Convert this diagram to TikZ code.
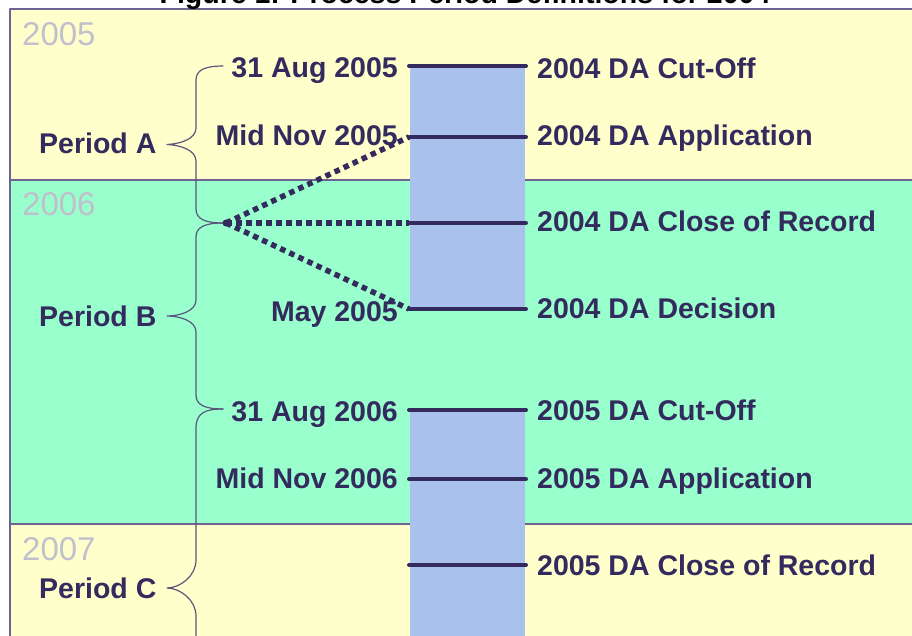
\documentclass[tikz,border=0pt]{standalone}
\usepackage{fontspec}
\setmainfont{Liberation Sans}
\definecolor{pale}{RGB}{255,255,204}
\definecolor{mint}{RGB}{153,255,204}
\definecolor{barblue}{RGB}{170,193,238}
\definecolor{ink}{RGB}{51,42,94}
\definecolor{yeargray}{RGB}{192,192,204}
\definecolor{edge}{RGB}{110,100,145}
\begin{document}
\begin{tikzpicture}[x=1pt, y=-1pt, line join=round, line cap=round,
			declare function={xl=10;xr=930;xb=410;xe=525;xs=196;xt=223;xc=167;},
			lbl/.style={font=\fontsize{28.5}{30}\bfseries\selectfont, text=ink, inner sep=0pt},
			yr/.style={font=\fontsize{33}{34}\selectfont, text=yeargray, inner sep=0pt, anchor=base west},
			tick/.style={ink, line width=4pt},
			dots/.style={ink, line width=5.5pt, line cap=butt, dash pattern=on 5.5pt off 4.5pt},
			brc/.style={ink!80, line width=1.2pt}]
			\useasboundingbox (0,0) rectangle (912,636);
			% year bands
			\draw[edge, line width=1.2pt, fill=pale] (xl,9) rectangle (xr,180);
			\draw[edge, line width=1.2pt, fill=mint] (xl,180) rectangle (xr,524);
			\draw[edge, line width=1.2pt, fill=pale] (xl,524) rectangle (xr,660);
			\node[yr] (y5) at (22,46) {2005};
			\node[yr] (y6) at (22,216) {2006};
			\node[yr] (y7) at (22,560) {2007};
			\node[font=\fontsize{28.5}{30}\bfseries\selectfont, anchor=base, inner sep=0pt] (title) at (465,4) {Figure 1: Process Period Definitions for 2004};
			% bar
			\fill[barblue] (xb,66) rectangle (xe,309);
			\fill[barblue] (xb,410) rectangle (xe,660);
			% ticks
			\coordinate (t1) at (409,66);  \coordinate (u1) at (526,66);
			\coordinate (t2) at (409,137); \coordinate (u2) at (526,137);
			\coordinate (t3) at (409,223); \coordinate (u3) at (526,223);
			\coordinate (t4) at (409,309); \coordinate (u4) at (526,309);
			\coordinate (t5) at (409,410); \coordinate (u5) at (526,410);
			\coordinate (t6) at (409,479); \coordinate (u6) at (526,479);
			\coordinate (t7) at (409,565); \coordinate (u7) at (526,565);
			\draw[tick] (t1)--(u1);
			\draw[tick] (t2)--(u2);
			\draw[tick] (t3)--(u3);
			\draw[tick] (t4)--(u4);
			\draw[tick] (t5)--(u5);
			\draw[tick] (t6)--(u6);
			\draw[tick] (t7)--(u7);
			% dates
			\node[lbl, anchor=base east] (d1) at (398,78) {31 Aug 2005};
			\node[lbl, anchor=base east] (d2) at (398,146) {Mid Nov 2005};
			\node[lbl, anchor=base east] (d4) at (398,321) {May 2005};
			\node[lbl, anchor=base east] (d5) at (398,421) {31 Aug 2006};
			\node[lbl, anchor=base east] (d6) at (398,488) {Mid Nov 2006};
			% events
			\node[lbl, anchor=base west] (e1) at (537,79) {2004 DA Cut-Off};
			\node[lbl, anchor=base west] (e2) at (537,146) {2004 DA Application};
			\node[lbl, anchor=base west] (e3) at (537,232) {2004 DA Close of Record};
			\node[lbl, anchor=base west] (e4) at (537,318) {2004 DA Decision};
			\node[lbl, anchor=base west] (e5) at (537,420) {2005 DA Cut-Off};
			\node[lbl, anchor=base west] (e6) at (537,488) {2005 DA Application};
			\node[lbl, anchor=base west] (e7) at (537,575) {2005 DA Close of Record};
			% periods
			\node[lbl, anchor=base west] (pA) at (39,154) {Period A};
			\node[lbl, anchor=base west] (pB) at (39,326) {Period B};
			\node[lbl, anchor=base west] (pC) at (39,598) {Period C};
			% braces
			\draw[brc] (xt,66) .. controls (205,66) and (xs,70) .. (xs,80) -- (xs,128)
				.. controls (xs,139) and (180,144) .. (xc,144.5) .. controls (180,145) and (xs,150) .. (xs,161)
				-- (xs,209) .. controls (xs,219) and (205,223) .. (xt,223);
			\draw[brc] (xt,223) .. controls (205,223) and (xs,227) .. (xs,237) -- (xs,300)
				.. controls (xs,311) and (180,316) .. (xc,316) .. controls (180,316) and (xs,321) .. (xs,332)
				-- (xs,395) .. controls (xs,405) and (205,409) .. (xt,409);
			\draw[brc] (xt,409) .. controls (205,409) and (xs,413) .. (xs,428) -- (xs,560)
				.. controls (xs,576) and (180,588) .. (xc,588) .. controls (180,588) and (xs,600) .. (xs,616)
				-- (xs,700);
			% dotted links
			\coordinate (hub) at (226,223);
			\fill[ink] (hub) circle (3.5pt);
			\draw[dots] (hub)--(t2);
			\draw[dots] (hub)--(t3);
			\draw[dots] (hub)--(t4);
		\end{tikzpicture}
\end{document}
